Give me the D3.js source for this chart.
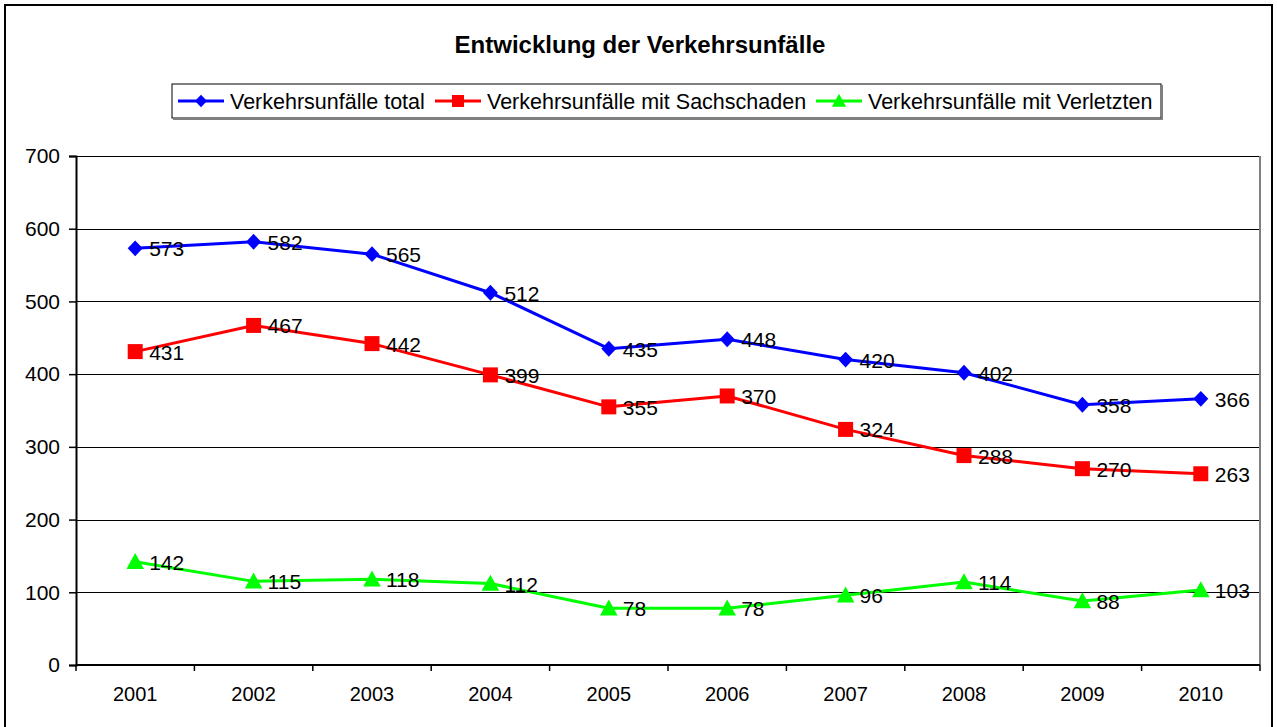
<!DOCTYPE html>
<html>
<head>
<meta charset="utf-8">
<script src="https://cdn.jsdelivr.net/npm/d3@7"></script>
<style>
html,body{margin:0;padding:0;background:#fff;}
svg{display:block;font-family:Arial,"Liberation Sans",sans-serif;}
</style>
</head>
<body>
<svg id="chart" width="1277" height="727"></svg>
<script>
const years = ["2001","2002","2003","2004","2005","2006","2007","2008","2009","2010"];
const total = [573,582,565,512,435,448,420,402,358,366];
const sachschaden = [431,467,442,399,355,370,324,288,270,263];
const verletzte = [142,115,118,112,78,78,96,114,88,103];
const seriesNames = ["Verkehrsunfälle total","Verkehrsunfälle mit Sachschaden","Verkehrsunfälle mit Verletzten"];
const yTicks = [0,100,200,300,400,500,600,700];
const title = "Entwicklung der Verkehrsunfälle";

const series = [
  {name: seriesNames[0], values: total, color: "#0000ff", marker: "diamond"},
  {name: seriesNames[1], values: sachschaden, color: "#ff0000", marker: "square"},
  {name: seriesNames[2], values: verletzte, color: "#00ff00", marker: "triangle"}
];

const FONT = "Arial,'Liberation Sans',sans-serif";
const svg = d3.select("#chart");
const L = 76, R = 1260, T = 156, B = 665;

// outer frame
svg.append("rect").attr("x",5).attr("y",5).attr("width",1267).attr("height",740)
  .attr("fill","none").attr("stroke","#000").attr("stroke-width",2);

// title
svg.append("text").attr("x",640).attr("y",53).attr("text-anchor","middle")
  .attr("font-weight","bold").attr("font-size",24).attr("fill","#000").text(title);

const x = d3.scaleBand().domain(years).range([L,R]).padding(0);
const y = d3.scaleLinear().domain([0,700]).range([B,T]);
const cx = d => x(d) + x.bandwidth()/2;

// gridlines
svg.append("g").attr("transform",`translate(${L},0)`)
  .call(d3.axisLeft(y).tickValues(yTicks.filter(v=>v>0)).tickSize(-(R-L)).tickFormat(""))
  .call(g=>g.select(".domain").remove())
  .call(g=>g.selectAll("line").attr("stroke","#000").attr("stroke-width",1).attr("shape-rendering","crispEdges"));

// right border
svg.append("line").attr("x1",R).attr("x2",R).attr("y1",T).attr("y2",B)
  .attr("stroke","#808080").attr("stroke-width",2);

// y axis
const yAxis = svg.append("g").attr("transform",`translate(${L},0)`)
  .call(d3.axisLeft(y).tickValues(yTicks).tickSize(7).tickPadding(9).tickFormat(d3.format("d")));
yAxis.select(".domain").attr("stroke","#000").attr("stroke-width",2);
yAxis.selectAll("line").attr("stroke","#000").attr("stroke-width",1.5);
yAxis.selectAll("text").attr("font-size",21).attr("fill","#000").style("font-family",FONT);

// x axis labels
const xAxis = svg.append("g").attr("transform",`translate(0,${B})`)
  .call(d3.axisBottom(x).tickSize(0).tickPadding(22));
xAxis.select(".domain").remove();
xAxis.selectAll("text").attr("font-size",20).attr("fill","#000").style("font-family",FONT);
// x axis line + boundary ticks
svg.append("line").attr("x1",L).attr("x2",R).attr("y1",B).attr("y2",B).attr("stroke","#000").attr("stroke-width",2);
const bounds = years.map(d=>x(d)).concat([x(years[years.length-1])+x.bandwidth()]);
svg.append("g").selectAll("line").data(bounds).join("line")
  .attr("x1",d=>d).attr("x2",d=>d).attr("y1",B).attr("y2",B+6)
  .attr("stroke","#000").attr("stroke-width",1.5);

function markerPath(type, size){
  const s = size;
  if(type==="diamond") return `M0,${-s*0.53}L${s*0.5},0L0,${s*0.53}L${-s*0.5},0Z`;
  if(type==="square") return `M${-s*0.5},${-s*0.5}h${s}v${s}h${-s}Z`;
  return `M0,${-s*0.55}L${s*0.55},${s*0.45}L${-s*0.55},${s*0.45}Z`;
}
const mSize = {diamond:15, square:15, triangle:16};

const line = d3.line().x((d,i)=>cx(years[i])).y(d=>y(d));
series.forEach(s=>{
  const g = svg.append("g");
  g.append("path").datum(s.values).attr("d",line).attr("fill","none")
    .attr("stroke",s.color).attr("stroke-width",3).attr("stroke-linejoin","round");
  g.selectAll("path.m").data(s.values).join("path").attr("class","m")
    .attr("transform",(d,i)=>`translate(${cx(years[i])},${y(d)})`)
    .attr("d",markerPath(s.marker,mSize[s.marker])).attr("fill",s.color);
  g.selectAll("text").data(s.values).join("text")
    .attr("x",(d,i)=>cx(years[i])+14).attr("y",d=>y(d)+8)
    .attr("font-size",21).attr("fill","#000").text(d=>d);
});

// legend
const lg = svg.append("g");
lg.append("rect").attr("x",172).attr("y",84).attr("width",989).attr("height",34)
  .attr("fill","#fff").attr("stroke","#000").attr("stroke-width",1);
lg.append("line").attr("x1",173).attr("x2",1162).attr("y1",119).attr("y2",119).attr("stroke","#808080").attr("stroke-width",2);
lg.append("line").attr("x1",1162).attr("x2",1162).attr("y1",85).attr("y2",120).attr("stroke","#808080").attr("stroke-width",2);
const legX = [178, 435, 816];
series.forEach((s,i)=>{
  const g = lg.append("g").attr("transform",`translate(${legX[i]},101)`);
  g.append("line").attr("x1",0).attr("x2",46).attr("y1",0).attr("y2",0).attr("stroke",s.color).attr("stroke-width",3);
  g.append("path").attr("transform","translate(23,0)").attr("d",markerPath(s.marker, s.marker==="triangle"?13:12)).attr("fill",s.color);
  g.append("text").attr("x",52).attr("y",7.5).attr("font-size",21.5).attr("fill","#000").text(s.name);
});
</script>
</body>
</html>
